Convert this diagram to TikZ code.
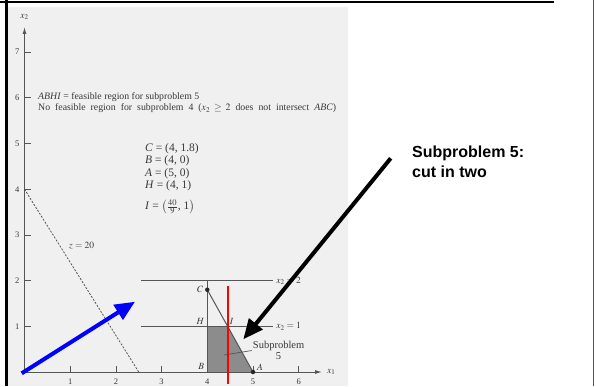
\documentclass[tikz,border=0pt]{standalone}
\usepackage{amsmath}
\usepackage{mathptmx}
\usepackage{fontspec}
\setmainfont{Liberation Serif}
\newfontfamily\slidefont{Liberation Sans}
\usetikzlibrary{arrows.meta, positioning, calc}
\definecolor{scangray}{HTML}{F0F0F0}
\definecolor{inkgray}{HTML}{555555}
\definecolor{textgray}{HTML}{383838}
\definecolor{shadegray}{HTML}{8C8C8C}
\definecolor{cutred}{RGB}{255,0,0}
\definecolor{arrowblue}{HTML}{0000FF}
\tikzset{
  axis/.style={draw=inkgray,line width=1pt,-{Latex[length=7pt,width=4pt]}},
  constraint/.style={draw=inkgray,line width=1pt},
  tickmark/.style={draw=inkgray,line width=.8pt},
  ticklabel/.style={text=textgray,font=\fontsize{8.5}{10}\selectfont,inner sep=1pt},
  pointlabel/.style={text=textgray,font=\fontsize{9.5}{11}\selectfont,inner sep=1pt},
  note/.style={text=textgray,font=\fontsize{9.8}{11.5}\selectfont,inner sep=0pt,align=left},
  vertex/.style={circle,fill=black!85,inner sep=0pt,minimum size=4.5pt},
  pointer/.style={line width=4pt,-{Triangle[length=20pt,width=17pt]}},
  splitline/.style={color=cutred,line width=2pt},
  caption/.style={font=\slidefont\bfseries\fontsize{16}{19.5}\selectfont,align=left,inner sep=0pt},
}
\begin{document}
\begin{tikzpicture}[x=1pt,y=-1pt]
  \useasboundingbox (0,0) rectangle (596,386);
  % scanned textbook figure and slide frame
  \fill[scangray] (8,7) rectangle (348,386);
  \draw[line width=2pt] (0,1.5) -- (554,1.5);
  \draw[line width=2.5pt] (6.5,0) -- (6.5,386);
  \draw[inkgray,line width=1pt] (593,0) -- (593,386);

  \begin{scope}[shift={(24.5,372)},x=45.7pt,y=45.7pt]
    \coordinate (O) at (0,0);
    \coordinate (A) at (5,0);
    \coordinate (B) at (4,0);
    \coordinate (C) at (4,1.8);
    \coordinate (H) at (4,1);
    \coordinate (I) at (40/9,1);
    % region ABHI
    \fill[shadegray] (B) -- (A) -- (I) -- (H) -- cycle;
    % axes
    \coordinate (X1end) at (6.51,0);
    \coordinate (X2end) at (0,7.55);
    \draw[axis] (O) -- (X1end);
    \draw[axis] (O) -- (X2end);
    \node[pointlabel,right=4pt of X1end] (x1lab) {$x_1$};
    \node[pointlabel,above=6pt of X2end] (x2lab) {$x_2$};
    \foreach \k in {1,...,7} {
      \draw[tickmark] (0,\k) -- ++(6.5pt,0);
      \node[ticklabel,left=4pt] (ylab\k) at (0,\k) {\k};
    }
    \foreach \k in {1,...,6} {
      \draw[tickmark] (\k,0) -- ++(0,6.5pt);
      \node[ticklabel,below=6pt] (xlab\k) at (\k,0) {\k};
    }
    % cuts x2 = 2 and x2 = 1
    \coordinate (L2a) at (2.56,2);
    \coordinate (L2b) at (5.44,2);
    \coordinate (L1a) at (2.56,1);
    \coordinate (L1b) at (5.44,1);
    \draw[constraint] (L2a) -- (L2b);
    \draw[constraint] (L1a) -- (L1b);
    \node[pointlabel,right=2pt of L2b] (cut2) {$x_2 = 2$};
    \node[pointlabel,right=2pt of L1b] (cut1) {$x_2 = 1$};
    % x1 = 4 and 9x1 + 5x2 = 45
    \coordinate (V) at (4,2);
    \draw[constraint] (V) -- (B);
    \draw[constraint] (C) -- (A);
    \node[vertex] at (C) {};
    \node[vertex] at (A) {};
    \node[pointlabel,left=3pt of C] (Clab) {$C$};
    \node[pointlabel,above left=1pt and 2pt of H] (Hlab) {$H$};
    \node[pointlabel,above right=1pt and 1pt of I] (Ilab) {$I$};
    \node[pointlabel,above left=1pt and 2pt of B] (Blab) {$B$};
    \node[pointlabel,above right=0pt and 3pt of A] (Alab) {$A$};
    % isoprofit line
    \coordinate (Z0) at (0,4);
    \coordinate (Z1) at (2.5,0);
    \draw[inkgray,line width=.8pt,dash pattern=on 2pt off 1.5pt] (Z0) -- (Z1);
    \node[pointlabel] (zlab) at (1.25,2.77) {$z = 20$};
    % subproblem 5 label
    \coordinate (leadfoot) at (4.365,0.372);
    \node[pointlabel,align=center,font=\fontsize{10.5}{11.5}\selectfont] (sub5) at (5.56,0.47) {Subproblem\\5};
    \draw[inkgray,line width=.7pt] (leadfoot) -- (sub5.west);
    % split at x1 = 40/9
    \coordinate (Rtop) at (40/9,1.88);
    \coordinate (Rbot) at (40/9,-0.26);
    \draw[splitline] (Rtop) -- (Rbot);
  \end{scope}

  % notes of the figure
  \node[note,anchor=north west] (feas) at (38,92) {\textit{ABHI} = feasible region for subproblem 5\\\makebox[298pt][s]{No feasible region for subproblem 4 ($x_2 \geq 2$ does not intersect \textit{ABC})}};
  \node[note,anchor=north west,font=\fontsize{11.5}{12.5}\selectfont] (pts) at (145,143) {\textit{C} = (4, 1.8)\\\textit{B} = (4, 0)\\\textit{A} = (5, 0)\\\textit{H} = (4, 1)\\[7.5pt]\textit{I} = $\bigl($$\frac{40}{9}$, 1$\bigr)$};

  % slide annotations
  \node[caption,anchor=north west] (cutnote) at (412,146) {Subproblem 5:\\cut in two};
  \coordinate (cutstart) at (390.7,158.3);
  \coordinate (cuttip) at (243.3,339.3);
  \draw[pointer] (cutstart) -- (cuttip);
  \coordinate (bluestart) at (21.7,373.3);
  \coordinate (bluetip) at (135,301.7);
  \draw[pointer,arrowblue] (bluestart) -- (bluetip);
\end{tikzpicture}
\end{document}
